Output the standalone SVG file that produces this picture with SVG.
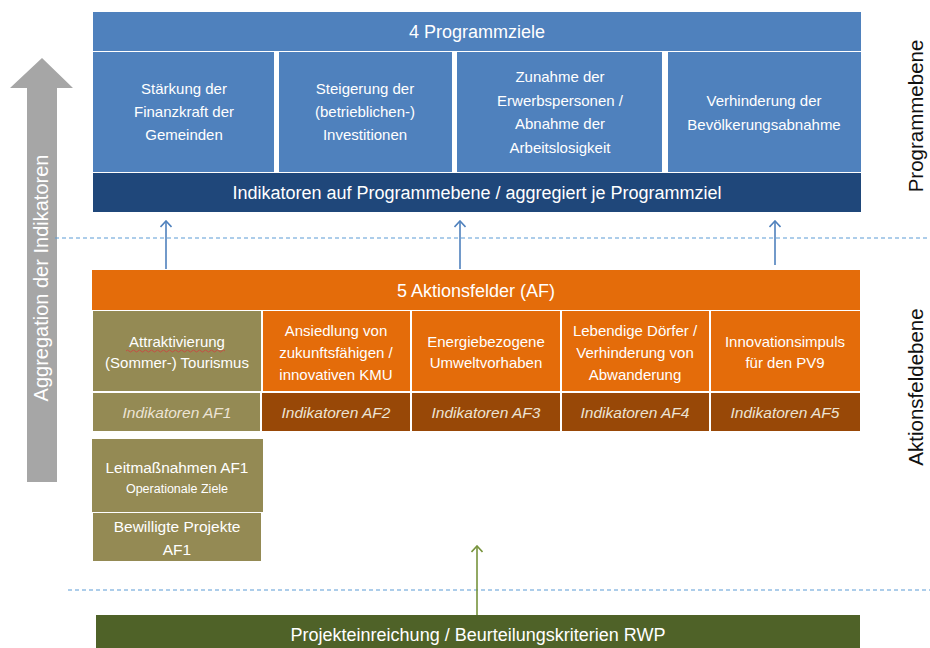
<svg xmlns="http://www.w3.org/2000/svg" width="930" height="648" viewBox="0 0 930 648">
<style>
text{font-family:"Liberation Sans","Open Sans",Arial,sans-serif;text-anchor:middle;fill:#ffffff}
.t{font-size:15px}
.big{font-size:18px}
.ind{font-size:15.5px;font-style:italic;fill:#ece4d4}
.side{font-size:20.5px;fill:#111111}
.blue{fill:#4f81bd}
.org{fill:#e46c0a}
.olv{fill:#948a54}
.dorg{fill:#984807}
.conn{stroke:#4f81bd;stroke-width:1.6;fill:none}
.dash{stroke:#5b9bd5;stroke-width:1;stroke-dasharray:4 3;fill:none}
</style>
<defs>
<marker id="ah" viewBox="0 0 10 12" refX="9" refY="6" markerWidth="10" markerHeight="12" markerUnits="userSpaceOnUse" orient="auto">
<path d="M3 0.5 L9 6 L3 11.5" fill="none" stroke="#4f81bd" stroke-width="1.6"/>
</marker>
<marker id="ahg" viewBox="0 0 10 12" refX="9" refY="6" markerWidth="10" markerHeight="12" markerUnits="userSpaceOnUse" orient="auto">
<path d="M3 0.5 L9 6 L3 11.5" fill="none" stroke="#77933c" stroke-width="1.6"/>
</marker>
</defs>

<g id="aggregation-arrow">
<path d="M27 482 L27 88 L10 88 L42 58 L73 88 L57 88 L57 482 Z" fill="#a6a6a6"/>
<text transform="translate(48 278) rotate(-90)" style="font-size:20px" fill="#f4f4f4">Aggregation der Indikatoren</text>
</g>

<g id="connectors">
<line class="dash" x1="55" y1="238" x2="930" y2="238"/>
<line class="dash" x1="68" y1="590" x2="930" y2="590"/>
<line class="conn" x1="166" y1="269" x2="166" y2="221" marker-end="url(#ah)"/>
<line class="conn" x1="460" y1="269" x2="460" y2="221" marker-end="url(#ah)"/>
<line class="conn" x1="775" y1="265" x2="775" y2="221" marker-end="url(#ah)"/>
<line x1="477" y1="615" x2="477" y2="546" stroke="#77933c" stroke-width="1.6" marker-end="url(#ahg)"/>
</g>

<g id="programmziele">
<rect class="blue" x="93" y="12" width="768" height="39"/>
<text class="big" x="477" y="38">4 Programmziele</text>
</g>
<g id="pz1">
<rect class="blue" x="93" y="52" width="181" height="120"/>
<text class="t" x="184" y="94">Stärkung der</text>
<text class="t" x="184" y="117">Finanzkraft der</text>
<text class="t" x="184" y="140">Gemeinden</text>
</g>
<g id="pz2">
<rect class="blue" x="279" y="52" width="173" height="120"/>
<text class="t" x="365" y="94">Steigerung der</text>
<text class="t" x="365" y="117">(betrieblichen-)</text>
<text class="t" x="365" y="140">Investitionen</text>
</g>
<g id="pz3">
<rect class="blue" x="457" y="52" width="205" height="120"/>
<text class="t" x="560" y="82">Zunahme der</text>
<text class="t" x="560" y="106">Erwerbspersonen /</text>
<text class="t" x="560" y="129">Abnahme der</text>
<text class="t" x="560" y="153">Arbeitslosigkeit</text>
</g>
<g id="pz4">
<rect class="blue" x="668" y="52" width="193" height="120"/>
<text class="t" x="764" y="106">Verhinderung der</text>
<text class="t" x="764" y="130">Bevölkerungsabnahme</text>
</g>
<g id="indikatoren-programm">
<rect x="93" y="173" width="768" height="39" fill="#1f477a"/>
<text x="477" y="199" style="font-size:18px" fill="#dce6f2">Indikatoren auf Programmebene / aggregiert je Programmziel</text>
</g>

<g id="aktionsfelder">
<rect class="org" x="92" y="270" width="768" height="40"/>
<text class="big" x="476" y="297">5 Aktionsfelder (AF)</text>
</g>
<g id="af1">
<rect class="olv" x="93" y="311" width="168" height="80"/>
<text class="t" x="177" y="347">Attraktivierung</text>
<path d="M126 351 q1.5 -2 3 0 t3 0 t3 0 t3 0 t3 0 t3 0 t3 0 t3 0 t3 0 t3 0 t3 0 t3 0 t3 0 t3 0 t3 0 t3 0 t3 0 t3 0 t3 0 t3 0 t3 0 t3 0 t3 0 t3 0 t3 0 t3 0 t3 0 t3 0 t3 0 t3 0 t3 0 t3 0 t3 0" fill="none" stroke="#d04040" stroke-width="0.8"/>
<text class="t" x="177" y="368">(Sommer-) Tourismus</text>
</g>
<g id="af2">
<rect class="org" x="263" y="311" width="147" height="80"/>
<text class="t" x="336" y="336">Ansiedlung von</text>
<text class="t" x="336" y="358">zukunftsfähigen /</text>
<text class="t" x="336" y="380">innovativen KMU</text>
</g>
<g id="af3">
<rect class="org" x="412" y="311" width="148" height="80"/>
<text class="t" x="486" y="347">Energiebezogene</text>
<text class="t" x="486" y="368">Umweltvorhaben</text>
</g>
<g id="af4">
<rect class="org" x="562" y="311" width="147" height="80"/>
<text class="t" x="635" y="336">Lebendige Dörfer /</text>
<text class="t" x="635" y="358">Verhinderung von</text>
<text class="t" x="635" y="380">Abwanderung</text>
</g>
<g id="af5">
<rect class="org" x="711" y="311" width="149" height="80"/>
<text class="t" x="785" y="347">Innovationsimpuls</text>
<text class="t" x="785" y="368">für den PV9</text>
</g>
<g id="ind-af1">
<rect class="olv" x="93" y="393" width="167" height="38"/>
<text class="ind" x="177" y="418">Indikatoren AF1</text>
</g>
<g id="ind-af2">
<rect class="dorg" x="262" y="393" width="148" height="38"/>
<text class="ind" x="336" y="418">Indikatoren AF2</text>
</g>
<g id="ind-af3">
<rect class="dorg" x="412" y="393" width="148" height="38"/>
<text class="ind" x="486" y="418">Indikatoren AF3</text>
</g>
<g id="ind-af4">
<rect class="dorg" x="562" y="393" width="147" height="38"/>
<text class="ind" x="635" y="418">Indikatoren AF4</text>
</g>
<g id="ind-af5">
<rect class="dorg" x="711" y="393" width="149" height="38"/>
<text class="ind" x="785" y="418">Indikatoren AF5</text>
</g>

<g id="leitmassnahmen">
<rect class="olv" x="92" y="439" width="171" height="73"/>
<text x="177" y="473" style="font-size:15.4px" fill="#f2eee0">Leitmaßnahmen AF1</text>
<text x="177" y="493" style="font-size:12.5px" fill="#f2eee0">Operationale Ziele</text>
</g>
<g id="bewilligte-projekte">
<rect class="olv" x="93" y="513" width="168" height="48"/>
<text x="177" y="532" style="font-size:15.5px" fill="#f2eee0">Bewilligte Projekte</text>
<text x="177" y="555" style="font-size:15.5px" fill="#f2eee0">AF1</text>
</g>

<g id="projekteinreichung">
<rect x="96" y="615" width="764" height="33" fill="#4f6228"/>
<text x="478" y="641" style="font-size:18px" fill="#e6ecd8">Projekteinreichung / Beurteilungskriterien RWP</text>
</g>

<g id="ebenen">
<text class="side" transform="translate(923 116) rotate(-90)">Programmebene</text>
<text class="side" transform="translate(923 387) rotate(-90)">Aktionsfeldebene</text>
</g>
</svg>
